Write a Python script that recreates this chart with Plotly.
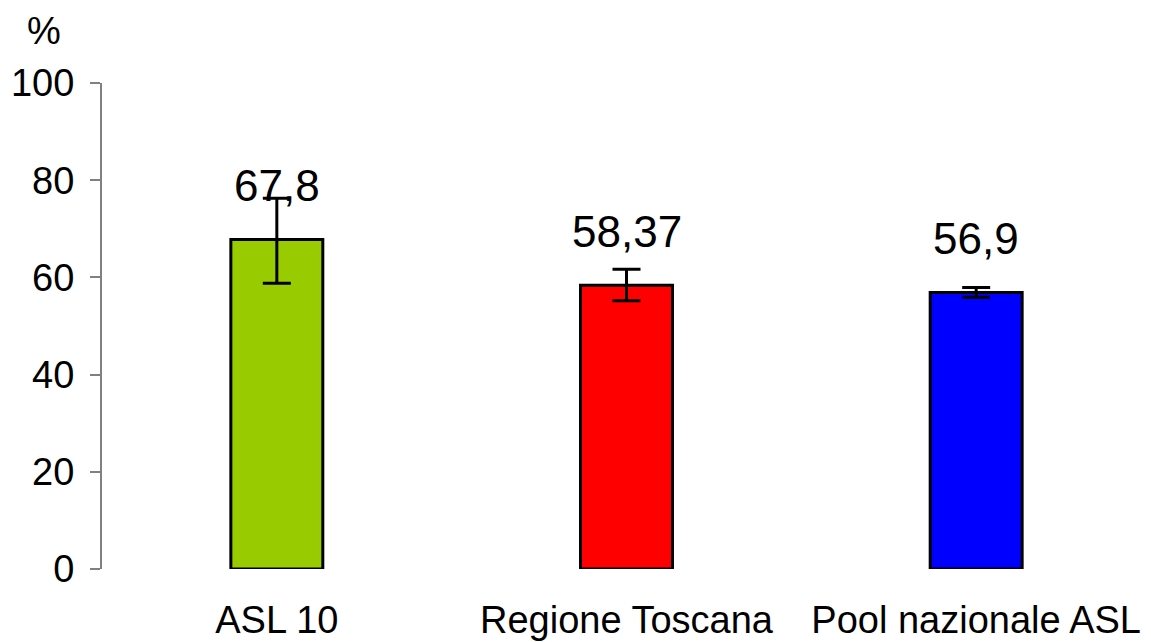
import plotly.graph_objects as go

categories = ["ASL 10", "Regione Toscana", "Pool nazionale ASL"]
values = [67.8, 58.37, 56.9]
labels = ["67,8", "58,37", "56,9"]
err_plus = [8.5, 3.3, 1.0]
err_minus = [9.0, 3.2, 1.0]
colors = ["#99CC00", "#FF0000", "#0000FF"]
y_ticks = [0, 20, 40, 60, 80, 100]

FONT = "Arial, Liberation Sans, sans-serif"

fig = go.Figure()
fig.add_trace(go.Bar(
    x=categories,
    y=values,
    marker=dict(color=colors, line=dict(color="black", width=3)),
    error_y=dict(type="data", symmetric=False, array=err_plus, arrayminus=err_minus,
                 color="black", thickness=3, width=14),
    width=0.263,
    hoverinfo="skip",
))

for c, v, t in zip(categories, values, labels):
    fig.add_annotation(x=c, y=v, text=t, showarrow=False, yanchor="bottom",
                       yshift=27, font=dict(family=FONT, size=44, color="black"))

fig.add_annotation(xref="paper", yref="paper", x=-0.055, y=1.107, text="%",
                   showarrow=False, xanchor="center", yanchor="middle",
                   font=dict(family=FONT, size=38, color="black"))

fig.update_layout(
    width=1151, height=642,
    margin=dict(l=102, r=0, t=83, b=73),
    paper_bgcolor="white", plot_bgcolor="white",
    showlegend=False,
    font=dict(family=FONT, color="black"),
    xaxis=dict(range=[-0.5, 2.5], showline=False, showgrid=False, zeroline=False,
               automargin=False,
               ticks="", tickfont=dict(size=38, family=FONT), ticklabelstandoff=25),
    yaxis=dict(range=[0, 100], tickvals=y_ticks, showgrid=False, zeroline=False,
               automargin=False,
               showline=True, linecolor="#808080", linewidth=2,
               ticks="outside", ticklen=10, tickcolor="#808080", tickwidth=2,
               tickfont=dict(size=38, family=FONT), ticklabelstandoff=8),
)

fig.write_html("out.html", config={"displayModeBar": False},
               post_script="document.body.style.margin='0';document.body.style.overflow='hidden';")
